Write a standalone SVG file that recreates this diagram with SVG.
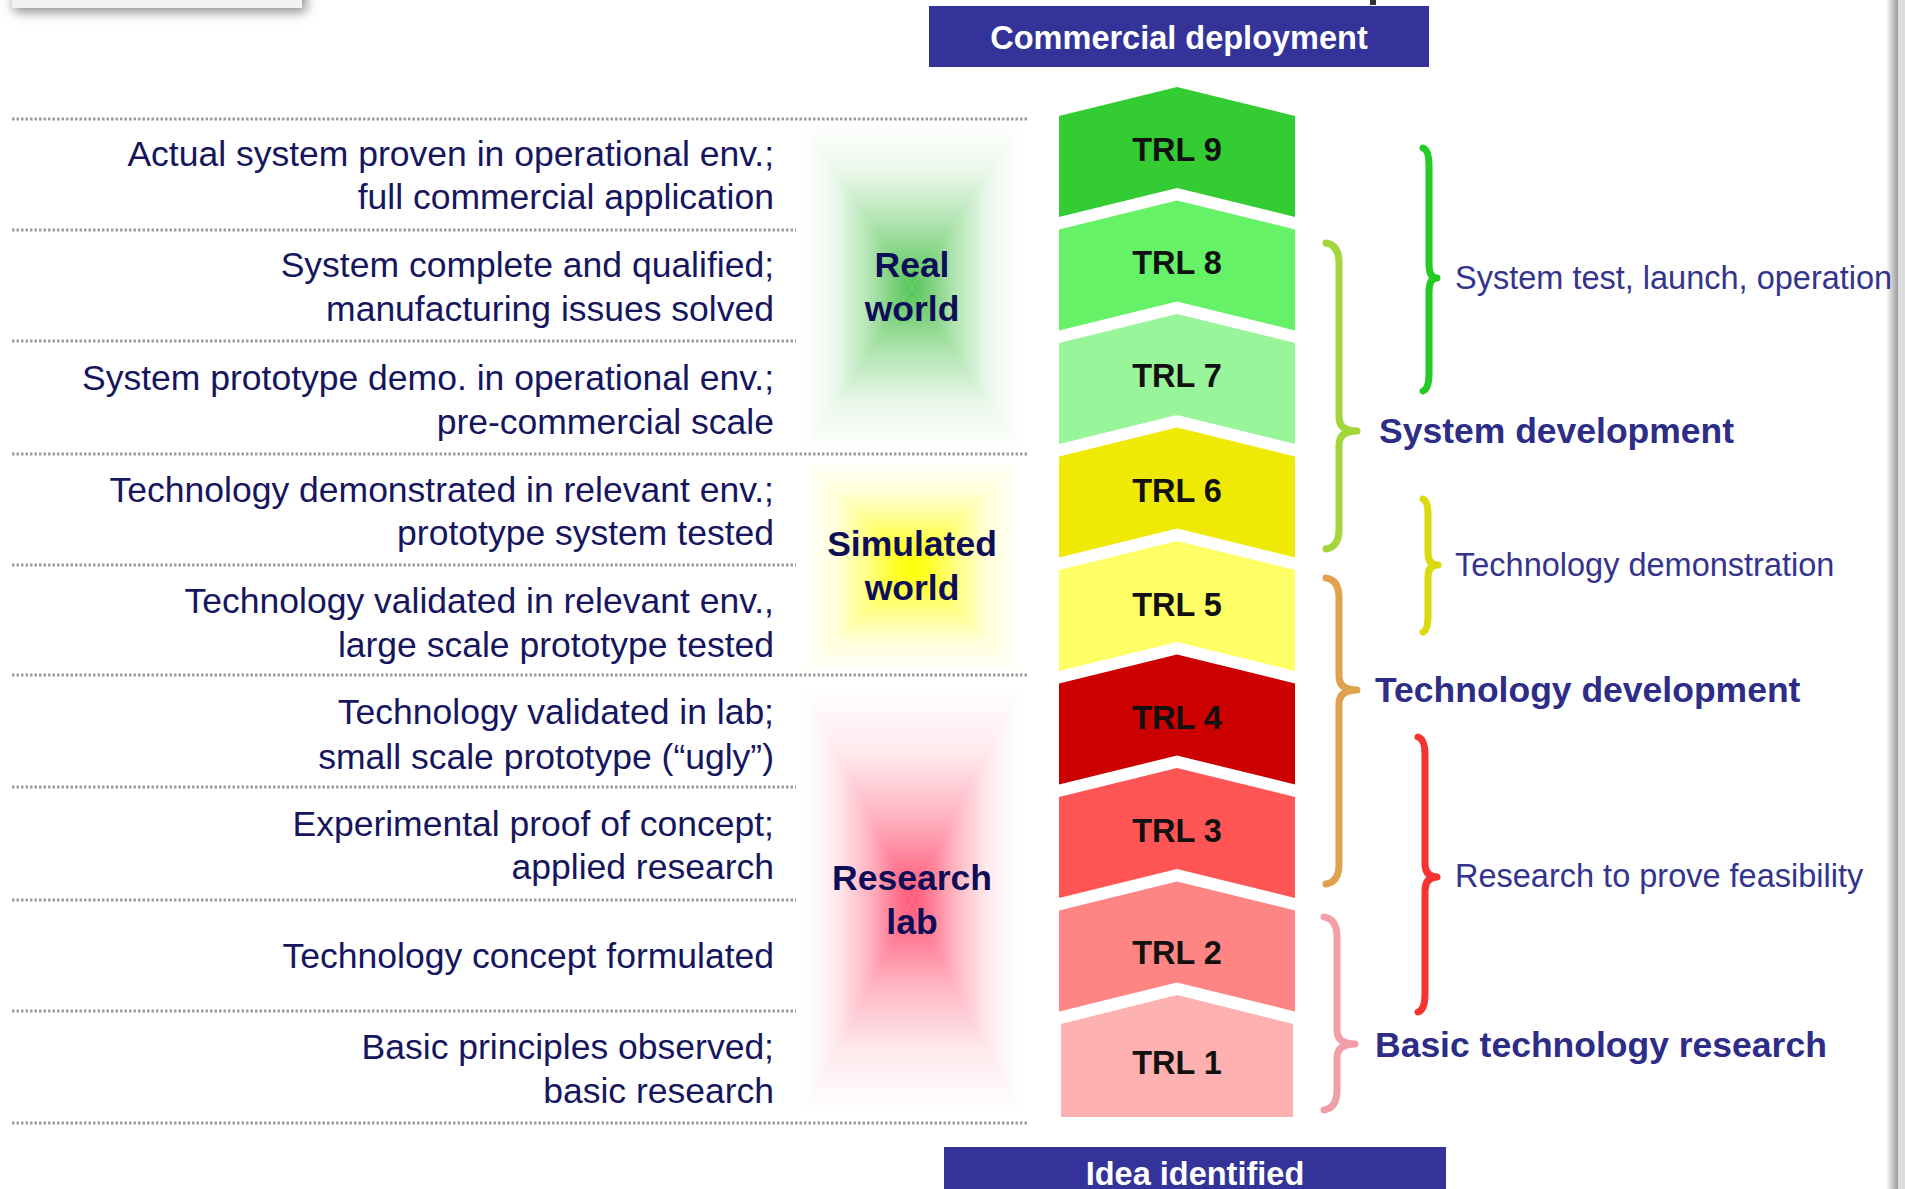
<svg xmlns="http://www.w3.org/2000/svg" width="1905" height="1189" viewBox="0 0 1905 1189">
<defs>
<style>
.desc{font-family:"Liberation Sans",Arial,sans-serif;font-size:35.5px;fill:#16165e;text-anchor:end}
.zone{font-family:"Liberation Sans",Arial,sans-serif;font-size:35.5px;font-weight:bold;fill:#0e0e58;text-anchor:middle}
.trl{font-family:"Liberation Sans",Arial,sans-serif;font-size:32.5px;font-weight:bold;fill:#111;text-anchor:middle}
.bar{font-family:"Liberation Sans",Arial,sans-serif;font-size:32.5px;font-weight:bold;fill:#fff;text-anchor:middle}
.rreg{font-family:"Liberation Sans",Arial,sans-serif;font-size:32.5px;fill:#34348c}
.rbold{font-family:"Liberation Sans",Arial,sans-serif;font-size:35.5px;font-weight:bold;fill:#2d2d88}
.dot{stroke:#9c9c9c;stroke-width:3;stroke-dasharray:2.5 2;fill:none}
.brace{fill:none;stroke-width:7;stroke-linecap:round;stroke-linejoin:round}
</style>
<filter id="blur" x="-20%" y="-50%" width="140%" height="250%"><feGaussianBlur stdDeviation="6"/></filter>
<linearGradient id="edge" x1="0" y1="0" x2="1" y2="0"><stop offset="0" stop-color="#fff"/><stop offset="1" stop-color="#9a9a9a"/></linearGradient>
<linearGradient id="gT" gradientUnits="userSpaceOnUse" x1="0" y1="122" x2="0" y2="287"><stop offset="0" stop-color="#55c455" stop-opacity="0"/><stop offset="0.3" stop-color="#55c455" stop-opacity="0.12"/><stop offset="0.6" stop-color="#55c455" stop-opacity="0.45"/><stop offset="0.85" stop-color="#55c455" stop-opacity="0.8"/><stop offset="1" stop-color="#55c455" stop-opacity="1"/></linearGradient>
<linearGradient id="gB" gradientUnits="userSpaceOnUse" x1="0" y1="452" x2="0" y2="287"><stop offset="0" stop-color="#55c455" stop-opacity="0"/><stop offset="0.3" stop-color="#55c455" stop-opacity="0.12"/><stop offset="0.6" stop-color="#55c455" stop-opacity="0.45"/><stop offset="0.85" stop-color="#55c455" stop-opacity="0.8"/><stop offset="1" stop-color="#55c455" stop-opacity="1"/></linearGradient>
<linearGradient id="gL" gradientUnits="userSpaceOnUse" x1="804" y1="0" x2="912" y2="0"><stop offset="0" stop-color="#55c455" stop-opacity="0"/><stop offset="0.3" stop-color="#55c455" stop-opacity="0.12"/><stop offset="0.6" stop-color="#55c455" stop-opacity="0.45"/><stop offset="0.85" stop-color="#55c455" stop-opacity="0.8"/><stop offset="1" stop-color="#55c455" stop-opacity="1"/></linearGradient>
<linearGradient id="gR" gradientUnits="userSpaceOnUse" x1="1020" y1="0" x2="912" y2="0"><stop offset="0" stop-color="#55c455" stop-opacity="0"/><stop offset="0.3" stop-color="#55c455" stop-opacity="0.12"/><stop offset="0.6" stop-color="#55c455" stop-opacity="0.45"/><stop offset="0.85" stop-color="#55c455" stop-opacity="0.8"/><stop offset="1" stop-color="#55c455" stop-opacity="1"/></linearGradient>
<linearGradient id="yT" gradientUnits="userSpaceOnUse" x1="0" y1="460" x2="0" y2="566"><stop offset="0" stop-color="#ffff00" stop-opacity="0"/><stop offset="0.3" stop-color="#ffff00" stop-opacity="0.15"/><stop offset="0.6" stop-color="#ffff00" stop-opacity="0.5"/><stop offset="0.85" stop-color="#ffff00" stop-opacity="0.85"/><stop offset="1" stop-color="#ffff00" stop-opacity="1"/></linearGradient>
<linearGradient id="yB" gradientUnits="userSpaceOnUse" x1="0" y1="672" x2="0" y2="566"><stop offset="0" stop-color="#ffff00" stop-opacity="0"/><stop offset="0.3" stop-color="#ffff00" stop-opacity="0.15"/><stop offset="0.6" stop-color="#ffff00" stop-opacity="0.5"/><stop offset="0.85" stop-color="#ffff00" stop-opacity="0.85"/><stop offset="1" stop-color="#ffff00" stop-opacity="1"/></linearGradient>
<linearGradient id="yL" gradientUnits="userSpaceOnUse" x1="804" y1="0" x2="912" y2="0"><stop offset="0" stop-color="#ffff00" stop-opacity="0"/><stop offset="0.3" stop-color="#ffff00" stop-opacity="0.15"/><stop offset="0.6" stop-color="#ffff00" stop-opacity="0.5"/><stop offset="0.85" stop-color="#ffff00" stop-opacity="0.85"/><stop offset="1" stop-color="#ffff00" stop-opacity="1"/></linearGradient>
<linearGradient id="yR" gradientUnits="userSpaceOnUse" x1="1020" y1="0" x2="912" y2="0"><stop offset="0" stop-color="#ffff00" stop-opacity="0"/><stop offset="0.3" stop-color="#ffff00" stop-opacity="0.15"/><stop offset="0.6" stop-color="#ffff00" stop-opacity="0.5"/><stop offset="0.85" stop-color="#ffff00" stop-opacity="0.85"/><stop offset="1" stop-color="#ffff00" stop-opacity="1"/></linearGradient>
<linearGradient id="rT" gradientUnits="userSpaceOnUse" x1="0" y1="688" x2="0" y2="900"><stop offset="0" stop-color="#ff5070" stop-opacity="0"/><stop offset="0.3" stop-color="#ff5070" stop-opacity="0.12"/><stop offset="0.6" stop-color="#ff5070" stop-opacity="0.42"/><stop offset="0.85" stop-color="#ff5070" stop-opacity="0.78"/><stop offset="1" stop-color="#ff5070" stop-opacity="0.95"/></linearGradient>
<linearGradient id="rB" gradientUnits="userSpaceOnUse" x1="0" y1="1115" x2="0" y2="900"><stop offset="0" stop-color="#ff5070" stop-opacity="0"/><stop offset="0.3" stop-color="#ff5070" stop-opacity="0.12"/><stop offset="0.6" stop-color="#ff5070" stop-opacity="0.42"/><stop offset="0.85" stop-color="#ff5070" stop-opacity="0.78"/><stop offset="1" stop-color="#ff5070" stop-opacity="0.95"/></linearGradient>
<linearGradient id="rL" gradientUnits="userSpaceOnUse" x1="804" y1="0" x2="912" y2="0"><stop offset="0" stop-color="#ff5070" stop-opacity="0"/><stop offset="0.3" stop-color="#ff5070" stop-opacity="0.12"/><stop offset="0.6" stop-color="#ff5070" stop-opacity="0.42"/><stop offset="0.85" stop-color="#ff5070" stop-opacity="0.78"/><stop offset="1" stop-color="#ff5070" stop-opacity="0.95"/></linearGradient>
<linearGradient id="rR" gradientUnits="userSpaceOnUse" x1="1020" y1="0" x2="912" y2="0"><stop offset="0" stop-color="#ff5070" stop-opacity="0"/><stop offset="0.3" stop-color="#ff5070" stop-opacity="0.12"/><stop offset="0.6" stop-color="#ff5070" stop-opacity="0.42"/><stop offset="0.85" stop-color="#ff5070" stop-opacity="0.78"/><stop offset="1" stop-color="#ff5070" stop-opacity="0.95"/></linearGradient>
</defs>
<rect width="1905" height="1189" fill="#fff"/>

<g id="page-edges">
<rect x="14" y="-24" width="292" height="36" fill="#8a8a8a" filter="url(#blur)"/>
<rect x="12" y="-24" width="290" height="32" fill="#f2f2f2"/>
<rect x="1886" y="0" width="12" height="1189" fill="url(#edge)"/>
<rect x="1898" y="0" width="7" height="1189" fill="#dcdcdc"/>
<rect x="1370" y="0" width="6" height="5" fill="#333"/>
</g>

<g id="separators">
<line class="dot" x1="12" y1="119" x2="1027" y2="119"/>
<line class="dot" x1="12" y1="230" x2="796" y2="230"/>
<line class="dot" x1="12" y1="341" x2="796" y2="341"/>
<line class="dot" x1="12" y1="454" x2="1027" y2="454"/>
<line class="dot" x1="12" y1="565" x2="796" y2="565"/>
<line class="dot" x1="12" y1="675" x2="1027" y2="675"/>
<line class="dot" x1="12" y1="787" x2="796" y2="787"/>
<line class="dot" x1="12" y1="900" x2="796" y2="900"/>
<line class="dot" x1="12" y1="1011" x2="796" y2="1011"/>
<line class="dot" x1="12" y1="1123" x2="1027" y2="1123"/>
</g>

<g id="glow-real">
<polygon points="804,122 1020,122 912,287" fill="url(#gT)"/>
<polygon points="804,452 1020,452 912,287" fill="url(#gB)"/>
<polygon points="804,122 804,452 912,287" fill="url(#gL)"/>
<polygon points="1020,122 1020,452 912,287" fill="url(#gR)"/>
</g>
<g id="glow-simulated">
<polygon points="804,460 1020,460 912,566" fill="url(#yT)"/>
<polygon points="804,672 1020,672 912,566" fill="url(#yB)"/>
<polygon points="804,460 804,672 912,566" fill="url(#yL)"/>
<polygon points="1020,460 1020,672 912,566" fill="url(#yR)"/>
</g>
<g id="glow-lab">
<polygon points="804,688 1020,688 912,900" fill="url(#rT)"/>
<polygon points="804,1115 1020,1115 912,900" fill="url(#rB)"/>
<polygon points="804,688 804,1115 912,900" fill="url(#rL)"/>
<polygon points="1020,688 1020,1115 912,900" fill="url(#rR)"/>
</g>

<g id="commercial-deployment">
<rect x="929" y="6" width="500" height="61" fill="#333399"/>
<text class="bar" x="1179" y="49">Commercial deployment</text>
</g>
<g id="idea-identified">
<rect x="944" y="1147" width="502" height="50" fill="#333399"/>
<text class="bar" x="1195" y="1185">Idea identified</text>
</g>

<g id="trl9"><polygon points="1059,116 1177,87 1295,116 1295,217 1177,188 1059,217" fill="#33cc33"/><text class="trl" x="1177" y="160.5">TRL 9</text></g>
<g id="trl8"><polygon points="1059,229.5 1177,200.5 1295,229.5 1295,330.5 1177,301.5 1059,330.5" fill="#66f266"/><text class="trl" x="1177" y="273.5">TRL 8</text></g>
<g id="trl7"><polygon points="1059,343 1177,314 1295,343 1295,444 1177,415 1059,444" fill="#99f599"/><text class="trl" x="1177" y="386.5">TRL 7</text></g>
<g id="trl6"><polygon points="1059,456.5 1177,427.5 1295,456.5 1295,557.5 1177,528.5 1059,557.5" fill="#eeea05"/><text class="trl" x="1177" y="501.5">TRL 6</text></g>
<g id="trl5"><polygon points="1059,570 1177,541 1295,570 1295,671 1177,642 1059,671" fill="#ffff66"/><text class="trl" x="1177" y="615.5">TRL 5</text></g>
<g id="trl4"><polygon points="1059,683.5 1177,654.5 1295,683.5 1295,784.5 1177,755.5 1059,784.5" fill="#cc0000"/><text class="trl" x="1177" y="728.5">TRL 4</text></g>
<g id="trl3"><polygon points="1059,797 1177,768 1295,797 1295,898 1177,869 1059,898" fill="#ff5555"/><text class="trl" x="1177" y="841.5">TRL 3</text></g>
<g id="trl2"><polygon points="1059,910.5 1177,881.5 1295,910.5 1295,1011.5 1177,982.5 1059,1011.5" fill="#ff8585"/><text class="trl" x="1177" y="963.5">TRL 2</text></g>
<g id="trl1"><polygon points="1061,1024 1177,995 1293,1024 1293,1117 1061,1117" fill="#ffb0b0"/><text class="trl" x="1177" y="1073.5">TRL 1</text></g>

<g id="desc9"><text class="desc" x="774" y="166">Actual system proven in operational env.;</text><text class="desc" x="774" y="209">full commercial application</text></g>
<g id="desc8"><text class="desc" x="774" y="277">System complete and qualified;</text><text class="desc" x="774" y="321">manufacturing issues solved</text></g>
<g id="desc7"><text class="desc" x="774" y="390">System prototype demo. in operational env.;</text><text class="desc" x="774" y="434">pre-commercial scale</text></g>
<g id="desc6"><text class="desc" x="774" y="502">Technology demonstrated in relevant env.;</text><text class="desc" x="774" y="545">prototype system tested</text></g>
<g id="desc5"><text class="desc" x="774" y="613">Technology validated in relevant env.,</text><text class="desc" x="774" y="657">large scale prototype tested</text></g>
<g id="desc4"><text class="desc" x="774" y="724">Technology validated in lab;</text><text class="desc" x="774" y="769">small scale prototype (“ugly”)</text></g>
<g id="desc3"><text class="desc" x="774" y="836">Experimental proof of concept;</text><text class="desc" x="774" y="879">applied research</text></g>
<g id="desc2"><text class="desc" x="774" y="968">Technology concept formulated</text></g>
<g id="desc1"><text class="desc" x="774" y="1059">Basic principles observed;</text><text class="desc" x="774" y="1103">basic research</text></g>

<g id="zone-real"><text class="zone" x="912" y="277">Real</text><text class="zone" x="912" y="321">world</text></g>
<g id="zone-simulated"><text class="zone" x="912" y="556">Simulated</text><text class="zone" x="912" y="600">world</text></g>
<g id="zone-lab"><text class="zone" x="912" y="890">Research</text><text class="zone" x="912" y="934">lab</text></g>

<g id="connectors">
<path class="brace" stroke="#22cc22" d="M1423,148 Q1429,150 1429,166 L1429,264 Q1429,278 1437,278 Q1429,278 1429,292 L1429,373 Q1429,389 1423,391"/>
<path class="brace" stroke="#a3d63a" d="M1326,243 Q1339,245 1339,263 L1339,417 Q1339,431 1357,431 Q1339,431 1339,445 L1339,529 Q1339,547 1326,549"/>
<path class="brace" stroke="#dada0c" d="M1423,499 Q1428,501 1428,515 L1428,553 Q1428,565 1438,565 Q1428,565 1428,577 L1428,616 Q1428,630 1423,632"/>
<path class="brace" stroke="#e0a24f" d="M1326,578 Q1339,580 1339,598 L1339,676 Q1339,690 1357,690 Q1339,690 1339,704 L1339,864 Q1339,882 1326,884"/>
<path class="brace" stroke="#f53333" d="M1418,737 Q1425,739 1425,755 L1425,863 Q1425,877 1437,877 Q1425,877 1425,891 L1425,994 Q1425,1010 1418,1012"/>
<path class="brace" stroke="#f2a0a8" d="M1324,917 Q1337,919 1337,937 L1337,1030 Q1337,1044 1355,1044 Q1337,1044 1337,1058 L1337,1090 Q1337,1108 1324,1110"/>
</g>

<g id="label-system-test"><text class="rreg" x="1455" y="289">System test, launch, operation</text></g>
<g id="label-system-dev"><text class="rbold" x="1379" y="443">System development</text></g>
<g id="label-tech-demo"><text class="rreg" x="1455" y="576">Technology demonstration</text></g>
<g id="label-tech-dev"><text class="rbold" x="1375" y="702">Technology development</text></g>
<g id="label-research"><text class="rreg" x="1455" y="887">Research to prove feasibility</text></g>
<g id="label-basic"><text class="rbold" x="1375" y="1057">Basic technology research</text></g>
</svg>
